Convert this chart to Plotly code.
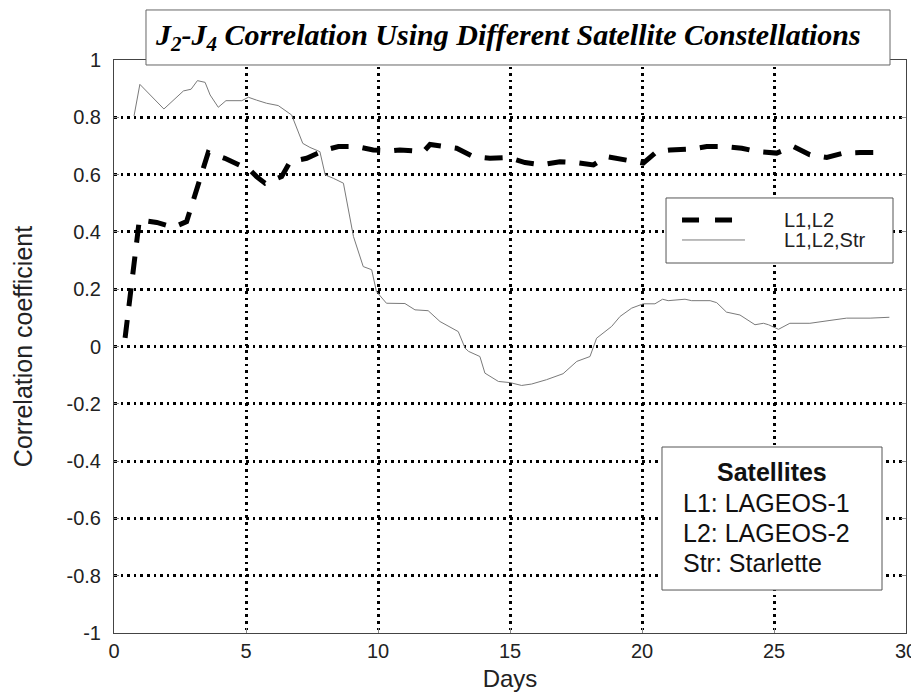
import plotly.graph_objs as go

# L1,L2 solution (thick dashed)
days_l12 = [0.42, 0.96, 1.62, 2.25, 2.75, 3.57, 4.2, 4.9, 5.15, 5.4, 5.72, 6.35, 6.67, 7.3, 8.0,
            8.5, 9.19, 9.82, 10.5, 10.83, 11.72, 11.97, 12.98, 13.61, 14.24, 14.94, 15.57, 16.2,
            16.89, 17.53, 18.16, 18.66, 19.42, 20.05, 20.56, 21.06, 21.94, 22.45, 23.14, 23.78,
            24.41, 25.1, 25.73, 26.36, 27.0, 27.63, 28.26, 29.0]
corr_l12 = [0.03, 0.442, 0.433, 0.416, 0.436, 0.677, 0.657, 0.63, 0.616, 0.593, 0.57, 0.593, 0.645,
            0.657, 0.686, 0.698, 0.698, 0.686, 0.683, 0.686, 0.68, 0.705, 0.692, 0.663, 0.657, 0.66,
            0.642, 0.634, 0.645, 0.642, 0.634, 0.663, 0.649, 0.64, 0.68, 0.686, 0.69, 0.698, 0.698,
            0.692, 0.68, 0.675, 0.698, 0.669, 0.66, 0.675, 0.677, 0.677]

# L1,L2,Str solution (thin grey)
days_str = [0.76, 0.98, 1.89, 2.63, 2.92, 3.16, 3.45, 3.64, 3.95, 4.24, 4.84, 5.09, 5.4, 5.78, 6.22,
            6.73, 7.15, 7.42, 7.8, 8.0, 8.31, 8.69, 9.07, 9.44, 9.76, 9.94, 10.32, 11.02, 11.4, 11.9,
            12.35, 13.04, 13.3, 13.43, 13.86, 14.05, 14.56, 15.0, 15.44, 15.82, 16.38, 17.01, 17.53,
            18.03, 18.28, 18.85, 19.17, 19.61, 20.05, 20.49, 20.78, 20.99, 21.63, 21.88, 22.58, 22.83,
            23.2, 23.71, 24.28, 24.6, 24.79, 25.17, 25.6, 26.36, 27.12, 27.75, 28.64, 29.37]
corr_str = [0.805, 0.915, 0.829, 0.892, 0.898, 0.928, 0.922, 0.878, 0.835, 0.858, 0.858, 0.87, 0.86,
            0.849, 0.841, 0.808, 0.709, 0.695, 0.68, 0.599, 0.587, 0.57, 0.384, 0.279, 0.268, 0.192,
            0.151, 0.15, 0.128, 0.125, 0.087, 0.052, -0.006, -0.017, -0.035, -0.093, -0.122, -0.126,
            -0.136, -0.131, -0.116, -0.095, -0.052, -0.035, 0.029, 0.07, 0.105, 0.134, 0.149, 0.149,
            0.165, 0.16, 0.165, 0.16, 0.16, 0.153, 0.12, 0.11, 0.076, 0.081, 0.076, 0.06, 0.081,
            0.081, 0.091, 0.099, 0.099, 0.102]

x_ticks = [0, 5, 10, 15, 20, 25, 30]
y_ticks = [1, 0.8, 0.6, 0.4, 0.2, 0, -0.2, -0.4, -0.6, -0.8, -1]
y_labels = ['1', '0.8', '0.6', '0.4', '0.2', '0', '-0.2', '-0.4', '-0.6', '-0.8', '-1']

sans = 'Liberation Sans, Arial, sans-serif'
serif = 'Liberation Serif, Times New Roman, serif'

fig = go.Figure()

fig.add_trace(go.Scatter(x=days_str, y=corr_str, mode='lines', name='L1,L2,Str',
                         line=dict(color='#7a7a7a', width=1)))
fig.add_trace(go.Scatter(x=days_l12, y=corr_l12, mode='lines', name='L1,L2',
                         line=dict(color='black', width=5, dash='18px,14px')))

axis_common = dict(showline=True, linecolor='#444444', linewidth=1, mirror='ticks',
                   ticks='inside', ticklen=5, tickcolor='#888888', automargin=False,
                   showgrid=True, gridcolor='black', gridwidth=2.5, griddash='2.5px,4.1px',
                   zeroline=False, tickfont=dict(family=sans, size=20, color='#222222'))

fig.update_xaxes(range=[0, 30], tickvals=x_ticks, ticklabelstandoff=0,
                 title=dict(text='Days', standoff=10, font=dict(family=sans, size=24, color='#222222')),
                 **axis_common)
fig.update_yaxes(range=[-1, 1], tickvals=y_ticks, ticktext=y_labels, ticklabelstandoff=8,
                 title=dict(text='Correlation coefficient', standoff=26,
                            font=dict(family=sans, size=25, color='#222222')), **axis_common)

# title box
fig.add_shape(type='rect', xref='paper', yref='paper', x0=0.0404, x1=0.9798, y0=0.9913, y1=1.0873,
              line=dict(color='#666666', width=1), fillcolor='white', layer='above')
fig.add_annotation(xref='paper', yref='paper', x=0.497, y=1.041, showarrow=False,
                   text='J<sub>2</sub>-J<sub>4</sub> Correlation Using Different Satellite Constellations',
                   font=dict(family=serif, size=30, color='black', style='italic', weight='bold'),
                   xanchor='center', yanchor='middle')

# legend box (drawn by hand to match the original layout)
fig.add_shape(type='rect', xref='paper', yref='paper', x0=0.697, x1=0.9836, y0=0.6457, y1=0.7592,
              line=dict(color='#555555', width=1), fillcolor='white', layer='above')
fig.add_shape(type='line', xref='paper', yref='paper', x0=0.7172, x1=0.7821, y0=0.7208, y1=0.7208,
              line=dict(color='black', width=5, dash='17px,16px'), layer='above')
fig.add_shape(type='line', xref='paper', yref='paper', x0=0.7172, x1=0.7967, y0=0.6859, y1=0.6859,
              line=dict(color='#7a7a7a', width=1), layer='above')
fig.add_annotation(xref='paper', yref='paper', x=0.8434, y=0.7208, text='L1,L2', showarrow=False,
                   xanchor='left', yanchor='middle', font=dict(family=sans, size=20, color='#222222'))
fig.add_annotation(xref='paper', yref='paper', x=0.8434, y=0.6859, text='L1,L2,Str', showarrow=False,
                   xanchor='left', yanchor='middle', font=dict(family=sans, size=20, color='#222222'))

# satellites box
fig.add_shape(type='rect', xref='paper', yref='paper', x0=0.6919, x1=0.9697, y0=0.075, y1=0.3246,
              line=dict(color='#555555', width=1), fillcolor='white', layer='above')
fig.add_annotation(xref='paper', yref='paper', x=0.8308, y=0.281, text='<b>Satellites</b>',
                   showarrow=False, xanchor='center', yanchor='middle',
                   font=dict(family=sans, size=25, color='#111111'))
for txt, yy in [('L1: LAGEOS-1', 0.2269), ('L2: LAGEOS-2', 0.1745), ('Str: Starlette', 0.1222)]:
    fig.add_annotation(xref='paper', yref='paper', x=0.7159, y=yy, text=txt, showarrow=False,
                       xanchor='left', yanchor='middle', font=dict(family=sans, size=25, color='#111111'))

# page has an 8px body margin, so the figure is 8px smaller and the margins shifted by 8px
fig.update_layout(width=911, height=684, showlegend=False,
                  plot_bgcolor='white', paper_bgcolor='white',
                  margin=dict(l=106, r=13, t=52, b=59))

fig.write_html("out.html")
